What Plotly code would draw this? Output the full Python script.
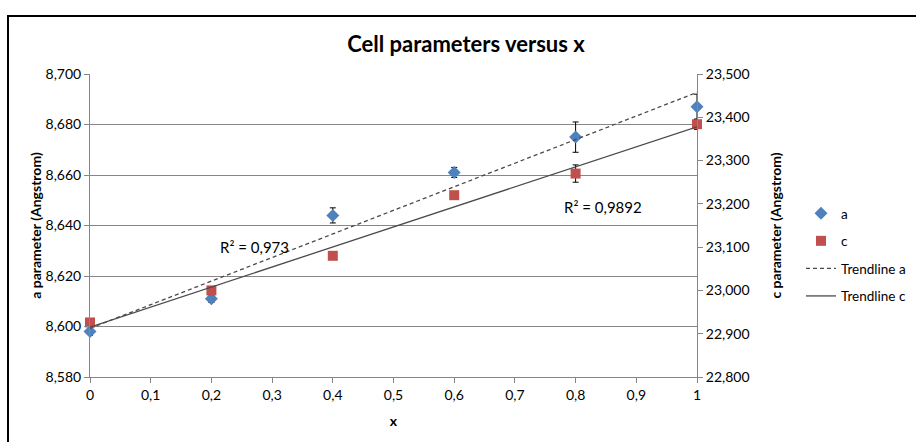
import numpy as np
import plotly.graph_objects as go

# Composition x and measured lattice parameters
x = [0, 0.2, 0.4, 0.6, 0.8, 1.0]
a_param = [8.598, 8.611, 8.644, 8.661, 8.675, 8.687]
a_err = [0.0015, 0.0015, 0.003, 0.002, 0.006, 0.005]
c_param = [22.926, 23.000, 23.080, 23.220, 23.270, 23.384]
c_err = [0.005, 0.005, 0.005, 0.005, 0.02, 0.012]

r2_labels = ["R\u00b2 = 0,973", "R\u00b2 = 0,9892"]

FONT = "Lato"
GRID = "#868686"
TREND = "#4a4a4a"

# Linear trendlines (least squares)
xs = np.array(x, dtype=float)
fit_a = np.polyfit(xs, a_param, 1)
fit_c = np.polyfit(xs, c_param, 1)
x_line = np.array([0.0, 1.0])

fig = go.Figure()
fig.add_trace(go.Scatter(
    x=x, y=a_param, mode="markers", name="a", legendgroup="g1", cliponaxis=False,
    marker=dict(symbol="diamond", size=10, color="#4F81BD"),
    error_y=dict(type="data", array=a_err, color="black", thickness=1, width=3),
    yaxis="y"))
fig.add_trace(go.Scatter(
    x=x, y=c_param, mode="markers", name="c", legendgroup="g2", cliponaxis=False,
    marker=dict(symbol="square", size=10, color="#C0504D"),
    error_y=dict(type="data", array=c_err, color="black", thickness=1, width=3),
    yaxis="y2"))
fig.add_trace(go.Scatter(
    x=x_line, y=np.polyval(fit_a, x_line), mode="lines", name="Trendline a",
    legendgroup="g3", cliponaxis=False,
    line=dict(color=TREND, width=1.3, dash="4px,3px"), yaxis="y"))
fig.add_trace(go.Scatter(
    x=x_line, y=np.polyval(fit_c, x_line), mode="lines", name="Trendline c",
    legendgroup="g4", cliponaxis=False,
    line=dict(color=TREND, width=1.3), yaxis="y2"))

fig.add_annotation(x=0.211, y=8.6315, xref="x", yref="y", text=r2_labels[0],
                   showarrow=False, xanchor="left", yanchor="middle",
                   font=dict(family=FONT, size=15, color="black"))
fig.add_annotation(x=0.777, y=8.6474, xref="x", yref="y", text=r2_labels[1],
                   showarrow=False, xanchor="left", yanchor="middle",
                   font=dict(family=FONT, size=15, color="black"))

# Chart frame
pw, ph = 607, 303
fig.add_shape(type="rect", xref="paper", yref="paper",
              x0=(8 - 90) / pw, x1=(930 - 90) / pw,
              y0=(377 - 460) / ph, y1=(377 - 16) / ph,
              line=dict(color="black", width=2), fillcolor="rgba(0,0,0,0)",
              layer="below")

fig.update_layout(
    width=916, height=442,
    margin=dict(l=90, r=219, t=74, b=65, autoexpand=False),
    paper_bgcolor="white", plot_bgcolor="white",
    separators=",.",
    font=dict(family=FONT, size=14, color="black"),
    title=dict(text="<b>Cell parameters versus x</b>", x=466 / 916, y=1 - 44 / 442,
               xref="container", yref="container", xanchor="center", yanchor="middle",
               font=dict(family=FONT, size=22, color="black")),
    xaxis=dict(range=[0, 1], dtick=0.1, tick0=0, showgrid=False, zeroline=False,
               showline=True, linecolor=GRID, linewidth=1, automargin=False,
               ticks="outside", ticklen=5, tickcolor=GRID,
               tickfont=dict(size=14),
               title=dict(text="<b>x</b>", standoff=14, font=dict(size=14))),
    yaxis=dict(range=[8.58, 8.70], dtick=0.02, tick0=8.58, tickformat=".3f",
               showgrid=True, gridcolor=GRID, gridwidth=1, zeroline=False,
               showline=True, linecolor=GRID, linewidth=1, automargin=False,
               ticks="outside", ticklen=5, tickcolor=GRID,
               tickfont=dict(size=14),
               title=dict(text="<b>a parameter (Angstrom)</b>", standoff=0,
                          font=dict(size=14))),
    yaxis2=dict(range=[22.8, 23.5], dtick=0.1, tick0=22.8, tickformat=".3f",
                overlaying="y", side="right", showgrid=False, zeroline=False,
                showline=True, linecolor=GRID, linewidth=1, automargin=False,
                ticks="outside", ticklen=5, tickcolor=GRID,
                tickfont=dict(size=14),
                title=dict(text="<b>c parameter (Angstrom)</b>", standoff=22,
                           font=dict(size=14))),
    legend=dict(x=(801 - 90) / pw, y=(377 - 198) / ph, xanchor="left", yanchor="top",
                traceorder="grouped", tracegroupgap=7, bgcolor="rgba(0,0,0,0)",
                font=dict(family=FONT, size=13.5, color="black")),
    showlegend=True,
)

fig.write_html("out.html")
